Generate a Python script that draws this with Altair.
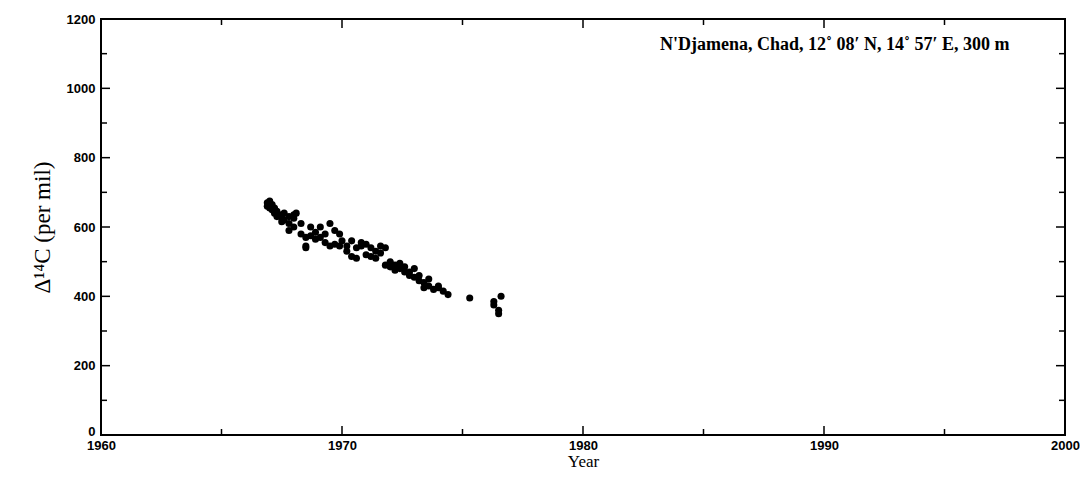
import altair as alt
import pandas as pd

# Data
years = [1966.9, 1966.9, 1967.0, 1967.0, 1967.1, 1967.1, 1967.2, 1967.2, 1967.3, 1967.3,
         1967.5, 1967.5, 1967.5, 1967.6, 1967.6, 1967.8, 1967.8, 1967.8, 1968.0, 1968.0,
         1968.0, 1968.1, 1968.3, 1968.3, 1968.5, 1968.5, 1968.5, 1968.7, 1968.7, 1968.9,
         1968.9, 1969.1, 1969.1, 1969.3, 1969.3, 1969.5, 1969.5, 1969.7, 1969.7, 1969.9,
         1969.9, 1970.0, 1970.2, 1970.2, 1970.4, 1970.4, 1970.6, 1970.6, 1970.8, 1970.8,
         1971.0, 1971.0, 1971.2, 1971.2, 1971.4, 1971.4, 1971.6, 1971.6, 1971.8, 1971.8,
         1972.0, 1972.0, 1972.0, 1972.2, 1972.2, 1972.4, 1972.4, 1972.6, 1972.6, 1972.8,
         1972.8, 1973.0, 1973.0, 1973.2, 1973.2, 1973.4, 1973.4, 1973.6, 1973.6, 1973.8,
         1974.0, 1974.0, 1974.2, 1974.4, 1975.3, 1976.3, 1976.3, 1976.5, 1976.5, 1976.6]
delta14c = [660, 670, 675, 655, 665, 650, 640, 655, 645, 630,
            635, 625, 615, 640, 620, 630, 590, 610, 635, 625,
            600, 640, 610, 580, 570, 540, 545, 600, 575, 585,
            565, 600, 570, 555, 580, 545, 610, 590, 550, 580,
            545, 560, 530, 545, 515, 560, 510, 540, 555, 545,
            550, 520, 515, 540, 510, 530, 545, 525, 540, 490,
            500, 495, 485, 475, 490, 480, 495, 485, 470, 470,
            460, 480, 455, 460, 445, 440, 425, 450, 430, 420,
            430, 425, 415, 405, 395, 385, 375, 360, 350, 400]

x_major = [1960, 1970, 1980, 1990, 2000]
x_minor = [1965, 1975, 1985, 1995]
y_major = [0, 200, 400, 600, 800, 1000, 1200]
y_minor = [100, 300, 500, 700, 900, 1100]

label_text = ["N'Djamena, Chad, 12\u02da 08\u2032 N, 14\u02da 57\u2032 E, 300 m"]
label_x = [1997.7]
label_y = [1125]

W, H = 964, 416
X_DOM = [1960, 2000]
Y_DOM = [0, 1200]

df = pd.DataFrame({"year": years, "d14c": delta14c})
xs = alt.Scale(domain=X_DOM, nice=False, zero=False)
ys = alt.Scale(domain=Y_DOM, nice=False, zero=False)

lab_font = "Liberation Sans"
ttl_font = "Liberation Serif"

AX = alt.Axis(
    values=x_major, format="d", title="Year", ticks=False, domain=False, grid=False,
    labelFlush=False, labelOverlap=False,
    labelFont=lab_font, labelFontSize=13, labelFontWeight="bold", labelColor="black",
    labelPadding=4,
    titleFont=ttl_font, titleFontSize=17, titleFontWeight="normal", titleColor="black",
    titlePadding=1)
AY = alt.Axis(
    values=y_major, format="d", title="\u0394\u00b9\u2074C (per mil)", ticks=False,
    domain=False, grid=False, labelFlush=False, labelOverlap=False,
    labelBaseline={"condition": {"test": "datum.value == 0", "value": "alphabetic"},
                   "value": "middle"},
    labelFont=lab_font, labelFontSize=13, labelFontWeight="bold", labelColor="black",
    labelPadding=6,
    titleFont=ttl_font, titleFontSize=23, titleFontWeight="normal", titleColor="black",
    titlePadding=12)

points = alt.Chart(df).mark_circle(size=50, color="black", opacity=1).encode(
    x=alt.X("year:Q", scale=xs, axis=AX),
    y=alt.Y("d14c:Q", scale=ys, axis=AY),
)

def xticks(vals, length):
    d = pd.DataFrame({"year": vals})
    bottom = alt.Chart(d).mark_rule(color="black", strokeWidth=1.5).encode(
        x=alt.X("year:Q", scale=xs, axis=AX), y=alt.value(H), y2=alt.value(H - length))
    top = alt.Chart(d).mark_rule(color="black", strokeWidth=1.5).encode(
        x=alt.X("year:Q", scale=xs, axis=AX), y=alt.value(0), y2=alt.value(length))
    return [bottom, top]

def yticks(vals, length):
    d = pd.DataFrame({"d14c": vals})
    left = alt.Chart(d).mark_rule(color="black", strokeWidth=1.5).encode(
        y=alt.Y("d14c:Q", scale=ys, axis=AY), x=alt.value(0), x2=alt.value(length))
    right = alt.Chart(d).mark_rule(color="black", strokeWidth=1.5).encode(
        y=alt.Y("d14c:Q", scale=ys, axis=AY), x=alt.value(W), x2=alt.value(W - length))
    return [left, right]

tdf = pd.DataFrame({"txt": label_text, "year": label_x, "d14c": label_y})
annot = alt.Chart(tdf).mark_text(
    align="right", baseline="middle", font=ttl_font, fontSize=18, fontWeight="bold",
    color="black").encode(
    x=alt.X("year:Q", scale=xs, axis=AX), y=alt.Y("d14c:Q", scale=ys, axis=AY), text="txt:N")

layers = [points] + xticks(x_major, 9) + xticks(x_minor, 6) + yticks(y_major, 9) + yticks(y_minor, 6) + [annot]

chart = alt.layer(*layers).properties(
    width=W, height=H,
    background="white",
    autosize=alt.AutoSizeParams(type="none"),
    padding={"left": 93, "top": 11, "right": 15, "bottom": 40},
).configure_view(stroke="black", strokeWidth=2)

chart.save("out.html", embed_options={"renderer": "svg", "actions": False})
